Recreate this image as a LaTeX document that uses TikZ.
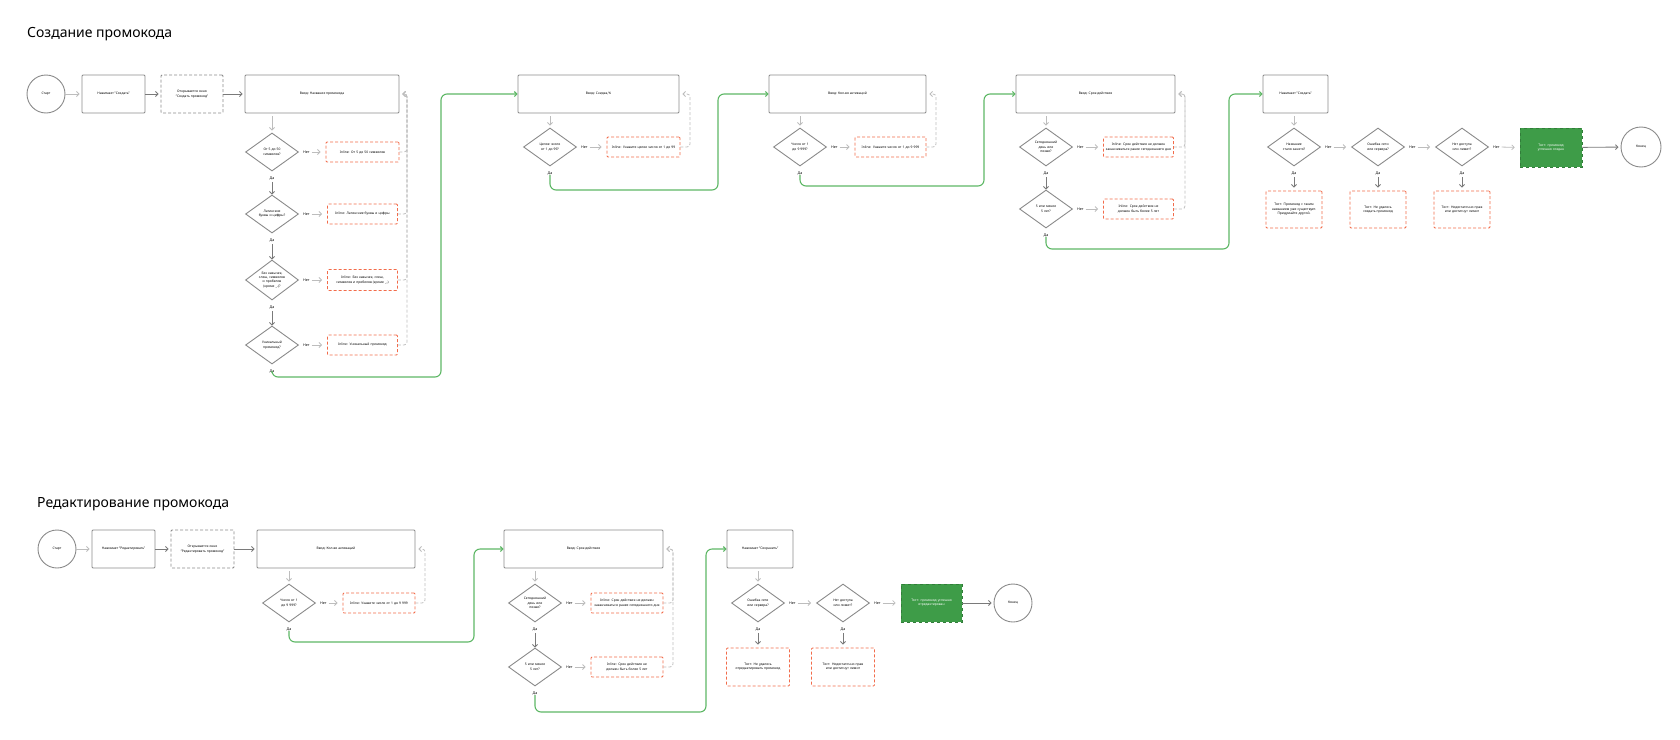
\documentclass[tikz,border=0pt]{standalone}
\usepackage{fontspec}
\setmainfont{Noto Sans}
\usetikzlibrary{shapes.geometric,arrows.meta,positioning}
\definecolor{bline}{HTML}{8A8A8A}
\definecolor{larr}{HTML}{BDBDBD}
\definecolor{darr}{HTML}{7A7A7A}
\definecolor{redc}{HTML}{F26B4A}
\definecolor{grl}{HTML}{5DB765}
\definecolor{grf}{HTML}{3E9C48}
\newcommand\tf{\fontsize{3.3}{4.4}\selectfont}
\tikzset{
  base/.style={font=\tf, align=center, inner sep=1pt},
  box/.style={base, draw=bline, line width=0.9pt, rounded corners=1pt, minimum height=38pt},
  dbox/.style={box, dashed, dash pattern=on 3pt off 2pt},
  err/.style={base, draw=redc, line width=0.9pt, dashed, dash pattern=on 3pt off 2pt, rounded corners=1pt, minimum height=20pt, text width=68pt},
  toast/.style={err, minimum height=37pt, text width=54pt},
  okb/.style={base, fill=grf, draw=grf!80!black, dashed, line width=0.6pt, text=white, minimum height=39pt, text width=46pt},
  dia/.style={base, diamond, aspect=1.4, inner sep=0pt, draw=bline, line width=0.9pt, minimum width=53pt, minimum height=38pt, text width=27pt},
  circ/.style={base, circle, draw=bline, line width=0.9pt},
  lab/.style={font=\fontsize{3.6}{4.6}\selectfont\bfseries, inner sep=0pt},
  ttl/.style={font=\fontsize{14}{16}\selectfont, anchor=base west, inner sep=0pt},
  tip/.style={-{Straight Barb[length=2.5pt,width=5pt]}},
  la/.style={tip, draw=larr, line width=0.8pt},
  da/.style={tip, draw=darr, line width=0.9pt},
  ret/.style={tip, draw=larr, line width=0.8pt, dashed, dash pattern=on 3pt off 2pt, rounded corners=3pt},
  ga/.style={tip, draw=grl, line width=1.1pt, rounded corners=6pt},
}
\begin{document}
\begin{tikzpicture}[x=1pt,y=-1pt]
\useasboundingbox (0,0) rectangle (1680,739);
% ===== Top =====
\node[ttl] (t1) at (27,37) {Создание промокода};
\node[circ, minimum size=38pt] (s1) at (46,94) {Старт};
\node[box, minimum width=63pt] (c1) at (113.5,94) {Нажимает "Создать"};
\node[dbox, minimum width=62pt, text width=54pt] (w1) at (192,94) {Открывается окно "Создать промокод"};
\node[box, minimum width=154pt] (b1) at (322,94) {Ввод: Название промокода};
\draw[la,shorten >=2pt] (s1) -- (c1);
\draw[da,shorten >=2pt] (c1) -- (w1);
\draw[da,shorten >=2pt] (w1) -- (b1);

\node[dia] (d1) at (272,152) {От 5 до 50 символов?};
\node[dia] (d2) at (272,214) {Латинские буквы и цифры?};
\node[dia, minimum height=40pt] (d3) at (272,280) {Без кавычек, слеш, символов и пробелов (кроме \_-)?};
\node[dia] (d4) at (272,345) {Уникальный промокод?};
\node[err, minimum width=73pt] (e1) at (362.5,152) {Inline: От 5 до 50 символов};
\node[err] (e2) at (362.5,214) {Inline: Латинские буквы и цифры};
\node[err, minimum height=21pt] (e3) at (362.5,280) {Inline: Без кавычек, слеш, символов и пробелов (кроме \_-)};
\node[err] (e4) at (362.5,345) {Inline: Уникальный промокод};
\coordinate (r1) at (407,94);
\draw[la,shorten <=3pt,shorten >=2pt] (b1.south -| d1) -- (d1.north);
\foreach \d/\e in {d1/e1,d2/e2,d3/e3,d4/e4}{
  \node[lab, right=4pt of \d.east] (n\d) {Нет};
  \draw[la,shorten <=2pt,shorten >=5pt] (n\d.east) -- (\e.west);
  \draw[ret] (\e.east) -| (r1) -- ([xshift=3pt]b1.east);
}
\node[lab, below=5pt of d1.south] (y1) {Да};
\node[lab, below=5pt of d2.south] (y2) {Да};
\node[lab, below=5pt of d3.south] (y3) {Да};
\node[lab, below=5pt of d4.south] (y4) {Да};
\draw[da,shorten <=2pt] (y1) -- (d2.north);
\draw[da,shorten <=2pt] (y2) -- (d3.north);
\draw[da,shorten <=2pt] (y3) -- (d4.north);

\node[box, minimum width=161pt] (b2) at (598.5,94) {Ввод: Скидка,\%};
\coordinate (g1) at (441,377);
\draw[ga] (y4.south) |- (g1) |- (b2.west);
\node[dia] (d5) at (550,147) {Целое число от 1 до 99?};
\node[err, minimum width=73pt] (e5) at (643.5,147) {Inline: Укажите целое число от 1 до 99};
\node[lab, right=4pt of d5.east] (nd5) {Нет};
\draw[la,shorten <=2pt,shorten >=5pt] (nd5.east) -- (e5.west);
\coordinate (r2) at (690,94);
\draw[ret] (e5.east) -| (r2) -- ([xshift=3pt]b2.east);
\draw[la,shorten <=3pt,shorten >=2pt] (b2.south -| d5) -- (d5.north);
\node[lab, below=5pt of d5.south] (y5) {Да};

\node[box, minimum width=157pt] (b3) at (847.5,94) {Ввод: Кол-во активаций};
\coordinate (g2) at (718,190);
\draw[ga] (y5.south) |- (g2) |- (b3.west);
\node[dia] (d6) at (800,147) {Число от 1 до 9 999?};
\node[err, text width=67pt, minimum width=71pt] (e6) at (890.5,147) {Inline: Укажите число от 1 до 9 999};
\node[lab, right=4pt of d6.east] (nd6) {Нет};
\draw[la,shorten <=2pt,shorten >=5pt] (nd6.east) -- (e6.west);
\coordinate (r3) at (936,94);
\draw[ret] (e6.east) -| (r3) -- ([xshift=3pt]b3.east);
\draw[la,shorten <=3pt,shorten >=2pt] (b3.south -| d6) -- (d6.north);
\node[lab, below=5pt of d6.south] (y6) {Да};

\node[box, minimum width=159pt] (b4) at (1095.5,94) {Ввод: Срок действия};
\coordinate (g3) at (984,186);
\draw[ga] (y6.south) |- (g3) |- (b4.west);
\node[dia] (d7) at (1046,147) {Сегодняшний день или позже?};
\node[dia] (d8) at (1046,209) {5 или менее 5 лет?};
\node[err] (e7) at (1138.5,147) {Inline: Срок действия не должен заканчиваться ранее сегодняшнего дня};
\node[err] (e8) at (1138.5,209) {Inline: Срок действия не должен быть более 5 лет};
\coordinate (r4) at (1185,94);
\foreach \d/\e in {d7/e7,d8/e8}{
  \node[lab, right=4pt of \d.east] (n\d) {Нет};
  \draw[la,shorten <=2pt,shorten >=5pt] (n\d.east) -- (\e.west);
  \draw[ret] (\e.east) -| (r4) -- ([xshift=3pt]b4.east);
}
\draw[la,shorten <=3pt,shorten >=2pt] (b4.south -| d7) -- (d7.north);
\node[lab, below=5pt of d7.south] (y7) {Да};
\node[lab, below=5pt of d8.south] (y8) {Да};
\draw[da,shorten <=2pt] (y7) -- (d8.north);

\node[box, minimum width=65pt] (b5) at (1295.5,94) {Нажимает "Создать"};
\coordinate (g4) at (1229,249);
\draw[ga] (y8.south) |- (g4) |- (b5.west);
\node[dia] (d9) at (1294,147) {Название стало занято?};
\node[dia] (d10) at (1378,147) {Ошибка сети или сервера?};
\node[dia] (d11) at (1462,147) {Нет доступа или лимит?};
\draw[la,shorten <=3pt,shorten >=2pt] (b5.south -| d9) -- (d9.north);
\node[toast] (q1) at (1294,209.5) {Тост: Промокод с таким названием уже существует. Придумайте другой.};
\node[toast] (q2) at (1378,209.5) {Тост: Не удалось создать промокод};
\node[toast] (q3) at (1462,209.5) {Тост: Недостаточно прав или достигнут лимит};
\node[okb, minimum width=62pt] (ok1) at (1551,147.5) {Тост: промокод успешно создан};
\node[circ, minimum size=40pt] (f1) at (1641,147) {Конец};
\foreach \d/\q in {d9/q1,d10/q2,d11/q3}{
  \node[lab, below=5pt of \d.south] (y\d) {Да};
  \draw[da,shorten <=2pt,shorten >=3pt] (y\d) -- (\q.north);
}
\foreach \d/\nx in {d9/d10,d10/d11,d11/ok1}{
  \node[lab, right=4pt of \d.east] (n\d) {Нет};
  \draw[la,shorten <=2pt,shorten >=5pt] (n\d.east) -- (\nx.west);
}
\draw[da,shorten >=2pt] (ok1) -- (f1);

% ===== Bottom =====
\node[ttl] (t2) at (37,507) {Редактирование промокода};
\node[circ, minimum size=38pt] (s2) at (57,549) {Старт};
\node[box, minimum width=63pt] (c2) at (123.5,549) {Нажимает "Редактировать"};
\node[dbox, minimum width=63pt, text width=58pt] (w2) at (202.5,549) {Открывается окно "Редактировать промокод"};
\node[box, minimum width=158pt] (bk) at (336,549) {Ввод: Кол-во активаций};
\draw[la,shorten >=2pt] (s2) -- (c2);
\draw[da,shorten >=2pt] (c2) -- (w2);
\draw[da,shorten >=2pt] (w2) -- (bk);
\node[dia] (dk) at (289,603) {Число от 1 до 9 999?};
\node[err, text width=67pt, minimum width=72pt] (ek) at (379,603) {Inline: Укажите число от 1 до 9 999};
\node[lab, right=4pt of dk.east] (ndk) {Нет};
\draw[la,shorten <=2pt,shorten >=5pt] (ndk.east) -- (ek.west);
\coordinate (r5) at (425,549);
\draw[ret] (ek.east) -| (r5) -- ([xshift=3pt]bk.east);
\draw[la,shorten <=3pt,shorten >=2pt] (bk.south -| dk) -- (dk.north);
\node[lab, below=5pt of dk.south] (yk) {Да};

\node[box, minimum width=159pt] (bs) at (583.5,549) {Ввод: Срок действия};
\coordinate (g5) at (474,642);
\draw[ga] (yk.south) |- (g5) |- (bs.west);
\node[dia] (ds1) at (535,603) {Сегодняшний день или позже?};
\node[dia] (ds2) at (535,667) {5 или менее 5 лет?};
\node[err, text width=67pt, minimum width=72pt] (es1) at (627,603) {Inline: Срок действия не должен заканчиваться ранее сегодняшнего дня};
\node[err, text width=67pt, minimum width=72pt] (es2) at (627,667) {Inline: Срок действия не должен быть более 5 лет};
\coordinate (r6) at (673,549);
\foreach \d/\e in {ds1/es1,ds2/es2}{
  \node[lab, right=4pt of \d.east] (n\d) {Нет};
  \draw[la,shorten <=2pt,shorten >=5pt] (n\d.east) -- (\e.west);
  \draw[ret] (\e.east) -| (r6) -- ([xshift=3pt]bs.east);
}
\draw[la,shorten <=3pt,shorten >=2pt] (bs.south -| ds1) -- (ds1.north);
\node[lab, below=5pt of ds1.south] (ys1) {Да};
\node[lab, below=5pt of ds2.south] (ys2) {Да};
\draw[da,shorten <=2pt] (ys1) -- (ds2.north);

\node[box, minimum width=66pt] (bv) at (760,549) {Нажимает "Сохранить"};
\coordinate (g6) at (706,712);
\draw[ga] (ys2.south) |- (g6) |- (bv.west);
\node[dia] (dv1) at (758,603) {Ошибка сети или сервера?};
\node[dia] (dv2) at (843,603) {Нет доступа или лимит?};
\draw[la,shorten <=3pt,shorten >=2pt] (bv.south -| dv1) -- (dv1.north);
\node[toast, minimum width=63pt, minimum height=38pt] (v1) at (758,667) {Тост: Не удалось отредактировать промокод};
\node[toast, minimum width=63pt, minimum height=38pt] (v2) at (843,667) {Тост: Недостаточно прав или достигнут лимит};
\node[okb, minimum width=61pt, minimum height=38pt] (ok2) at (931.5,603) {Тост: промокод успешно отредактирован};
\node[circ, minimum size=38pt] (f2) at (1013,603) {Конец};
\foreach \d/\q in {dv1/v1,dv2/v2}{
  \node[lab, below=5pt of \d.south] (y\d) {Да};
  \draw[da,shorten <=2pt,shorten >=3pt] (y\d) -- (\q.north);
}
\foreach \d/\nx in {dv1/dv2,dv2/ok2}{
  \node[lab, right=4pt of \d.east] (n\d) {Нет};
  \draw[la,shorten <=2pt,shorten >=5pt] (n\d.east) -- (\nx.west);
}
\draw[da,shorten >=2pt] (ok2) -- (f2);
\end{tikzpicture}
\end{document}
